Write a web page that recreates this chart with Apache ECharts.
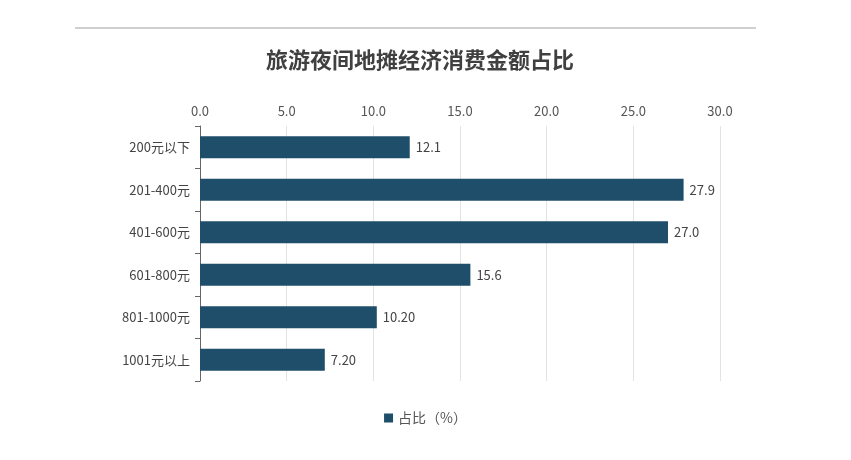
<!DOCTYPE html>
<html>
<head>
<meta charset="utf-8">
<script src="https://cdn.jsdelivr.net/npm/echarts@6/dist/echarts.min.js"></script>
<style>html,body{margin:0;padding:0;background:#fff;}#main{width:851px;height:460px;}</style>
</head>
<body>
<div id="main"></div>
<script>
// 数据
var categories = ['200元以下', '201-400元', '401-600元', '601-800元', '801-1000元', '1001元以上'];
var values = [12.1, 27.9, 27.0, 15.6, 10.2, 7.2];
var valueLabels = ['12.1', '27.9', '27.0', '15.6', '10.20', '7.20'];
var xTicks = [0, 5, 10, 15, 20, 25, 30];

var myChart = echarts.init(document.getElementById('main'));
var font = '"Noto Sans CJK SC", "Noto Sans", sans-serif';
var option = {
    graphic: [{
        type: 'line',
        shape: {x1: 75, y1: 28, x2: 756, y2: 28},
        style: {stroke: '#d0d0d0', lineWidth: 2}
    }],
    title: {
        text: '旅游夜间地摊经济消费金额占比',
        left: 415,
        textAlign: 'center',
        top: 44,
        textStyle: {fontFamily: font, fontSize: 22, fontWeight: 'bold', color: '#404040'}
    },
    legend: {
        data: ['占比（%）'],
        bottom: 30,
        left: 'center',
        icon: 'rect',
        itemWidth: 9,
        itemHeight: 9,
        textStyle: {fontFamily: font, fontSize: 14, color: '#555'}
    },
    grid: {left: 200, right: 131, top: 126, height: 255},
    xAxis: {
        type: 'value',
        position: 'top',
        min: xTicks[0],
        max: xTicks[xTicks.length - 1],
        interval: 5,
        axisLine: {show: false},
        axisTick: {show: false},
        axisLabel: {
            fontFamily: font, fontSize: 13, color: '#555',
            formatter: function (v) { return v.toFixed(1); }
        },
        splitLine: {lineStyle: {color: '#e3e3e3'}}
    },
    yAxis: {
        type: 'category',
        inverse: true,
        data: categories,
        axisLine: {lineStyle: {color: '#666'}},
        axisTick: {show: true, lineStyle: {color: '#666'}},
        axisLabel: {fontFamily: font, fontSize: 13, color: '#444', margin: 10}
    },
    series: [{
        name: '占比（%）',
        type: 'bar',
        data: values,
        barWidth: 22,
        itemStyle: {color: '#1f4e6a'},
        label: {
            show: true,
            position: 'right',
            distance: 6,
            fontFamily: font,
            fontSize: 13,
            color: '#444',
            formatter: function (p) { return valueLabels[p.dataIndex]; }
        }
    }]
};
myChart.setOption(option);
</script>
</body>
</html>
